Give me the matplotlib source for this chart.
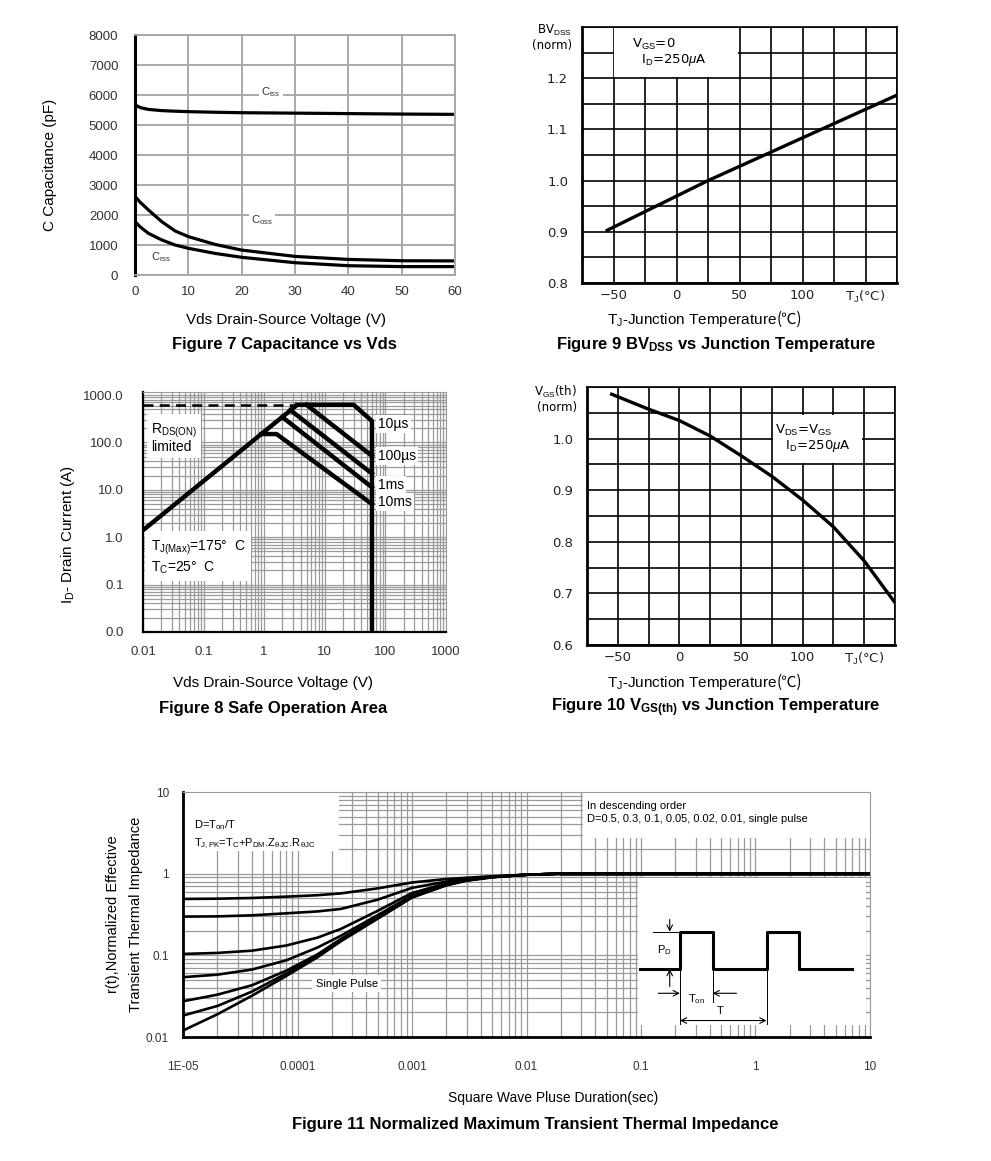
import matplotlib.pyplot as plt
from matplotlib.patches import Rectangle

plt.rcParams['font.family'] = ['Liberation Sans', 'DejaVu Sans', 'Noto Sans CJK SC']
plt.rcParams['mathtext.fontset'] = 'custom'
plt.rcParams['mathtext.rm'] = 'Liberation Sans'
plt.rcParams['mathtext.it'] = 'Liberation Sans:italic'
plt.rcParams['mathtext.bf'] = 'Liberation Sans:bold'

# ---- data ----
# Figure 7: capacitance vs Vds
vds_cap = [0, 1, 2.5, 5, 7.5, 10, 15, 20, 30, 40, 50, 59.5]
ciss = [5670, 5580, 5520, 5480, 5460, 5445, 5425, 5410, 5395, 5380, 5365, 5355]
coss = [2620, 2420, 2170, 1780, 1470, 1280, 1020, 830, 620, 520, 475, 470]
crss = [1780, 1600, 1390, 1170, 1000, 890, 720, 590, 410, 310, 280, 280]

# Figure 9: BVdss (norm) vs Tj
tj_bv = [-55, 25, 175]
bv_norm = [0.903, 1.0, 1.167]

# Figure 10: Vgs(th) (norm) vs Tj
tj_vth = [-55, -25, 0, 25, 50, 75, 100, 125, 150, 175]
vth_norm = [1.086, 1.057, 1.035, 1.005, 0.967, 0.927, 0.881, 0.829, 0.763, 0.682]

# Figure 8: safe operating area
rds_v = [0.01, 3.5]
rds_i = [1.4, 620]
dash_v = [0.01, 3.5]
dash_i = [620, 620]
lim_10us_v = [3.5, 30, 60, 60]
lim_10us_i = [620, 620, 283, 0.01]
lim_100us_v = [5.0, 60]
lim_100us_i = [620, 52]
lim_1ms_v = [2.7, 60]
lim_1ms_i = [480, 22]
lim_10ms_v = [2.0, 60]
lim_10ms_i = [340, 11.3]
lim_dc_v = [0.9, 1.6, 60]
lim_dc_i = [150, 150, 5]

# Figure 11: transient thermal impedance
t_pulse = [1e-5, 2e-5, 4e-5, 8e-5, 1.5e-4, 2.4e-4, 5e-4, 1e-3, 2e-3, 3e-3, 5e-3, 1e-2, 2e-2, 10]
z_d05 = [0.49, 0.494, 0.504, 0.523, 0.545, 0.574, 0.66, 0.78, 0.86, 0.89, 0.93, 0.97, 1.0, 1.0]
z_d03 = [0.298, 0.300, 0.309, 0.327, 0.345, 0.37, 0.48, 0.67, 0.80, 0.86, 0.92, 0.97, 1.0, 1.0]
z_d01 = [0.104, 0.107, 0.114, 0.132, 0.165, 0.211, 0.35, 0.58, 0.76, 0.84, 0.91, 0.97, 1.0, 1.0]
z_d005 = [0.054, 0.058, 0.067, 0.087, 0.125, 0.174, 0.31, 0.54, 0.74, 0.83, 0.91, 0.97, 1.0, 1.0]
z_d002 = [0.0274, 0.033, 0.043, 0.065, 0.103, 0.159, 0.29, 0.52, 0.73, 0.83, 0.91, 0.97, 1.0, 1.0]
z_d001 = [0.0183, 0.024, 0.036, 0.060, 0.099, 0.154, 0.285, 0.515, 0.73, 0.83, 0.91, 0.97, 1.0, 1.0]
z_single = [0.012, 0.019, 0.032, 0.056, 0.095, 0.149, 0.28, 0.51, 0.72, 0.82, 0.90, 0.97, 1.0, 1.0]

# pulse train sketch (time in units of Ton, level in units of Pd)
wave_t = [-1.22, 0, 0, 1, 1, 2.65, 2.65, 3.65, 3.65, 5.25]
wave_p = [0, 0, 1, 1, 0, 0, 1, 1, 0, 0]

W, H = 991, 1161
fig = plt.figure(figsize=(W / 100, H / 100), dpi=100)


def px_axes(l, t, r, b):
    return fig.add_axes([l / W, 1 - b / H, (r - l) / W, (b - t) / H])


def ftext(x, y, s, **kw):
    return fig.text(x / W, 1 - y / H, s, **kw)


GRID = '#a3a3a3'
white_box = dict(facecolor='white', edgecolor='none', pad=1.5)

# ================= Figure 7 =================
ax7 = px_axes(135, 35, 455, 275)
ax7.plot(vds_cap, ciss, color='black', lw=2.3)
ax7.plot(vds_cap, coss, color='black', lw=2.3)
ax7.plot(vds_cap, crss, color='black', lw=2.3)
ax7.set_xlim(0, 60)
ax7.set_ylim(0, 8000)
ax7.set_xticks(range(0, 61, 10))
ax7.set_yticks(range(0, 8001, 1000))
ax7.grid(True, color=GRID, lw=1.3)
ax7.set_axisbelow(True)
for s in ['top', 'right', 'bottom']:
    ax7.spines[s].set_color(GRID)
    ax7.spines[s].set_linewidth(1.3)
ax7.spines['left'].set_linewidth(2.2)
ax7.tick_params(length=0, labelsize=9.5, colors='#333333')
ax7.tick_params(axis='y', pad=12)
ax7.tick_params(axis='x', pad=8)
ax7.text(25.5, 6100, r'C$_{\mathrm{iss}}$', fontsize=8, ha='center', va='center', color='#333333', bbox=white_box)
ax7.text(23.8, 1830, r'C$_{\mathrm{oss}}$', fontsize=8, ha='center', va='center', color='#333333', bbox=white_box)
ax7.text(4.8, 600, r'C$_{\mathrm{rss}}$', fontsize=8, ha='center', va='center', color='#333333')
ftext(50, 165, 'C Capacitance (pF)', rotation=90, fontsize=11, ha='center', va='center')
ftext(286, 320, 'Vds Drain-Source Voltage (V)', fontsize=11, ha='center', va='center')
ftext(284, 345, 'Figure 7 Capacitance vs Vds', fontsize=12, fontweight='bold', ha='center', va='center')

# ================= Figure 9 / 10 common =================
temp_ticks = list(range(-75, 176, 25))
temp_labels = ['', '\u221250', '', '0', '', '50', '', '100', '', 'T$_\\mathrm{J}$(\u00b0C)', '']


def temp_axes(ax, ylo, yhi, ylabels):
    ax.set_xlim(-75, 175)
    ax.set_ylim(ylo, yhi)
    ax.set_xticks(temp_ticks)
    ax.set_xticklabels(temp_labels, family='DejaVu Sans')
    yt = [ylo + 0.05 * i for i in range(len(ylabels))]
    ax.set_yticks(yt)
    ax.set_yticklabels(ylabels, family='DejaVu Sans')
    ax.grid(True, color='black', lw=1.2)
    ax.set_axisbelow(True)
    for s in ax.spines.values():
        s.set_linewidth(1.2)
    ax.spines['left'].set_linewidth(2)
    ax.spines['bottom'].set_linewidth(2)
    ax.tick_params(length=0, labelsize=9.5, colors='#222222')
    ax.tick_params(axis='y', pad=10)
    ax.tick_params(axis='x', pad=4)


temp_xlabels = []

# ================= Figure 9 =================
ax9 = px_axes(582, 27, 897, 283)
temp_axes(ax9, 0.8, 1.3, ['0.8', '', '0.9', '', '1.0', '', '1.1', '', '1.2', '', ''])
ax9.add_patch(Rectangle((-49.3, 1.203), 98.5, 0.095, facecolor='white', edgecolor='none', zorder=1.5))
ax9.plot(tj_bv, bv_norm, color='black', lw=2.4, zorder=3)
ax9.text(-35, 1.266, r'V$_{\mathrm{GS}}$=0', fontsize=9.5, family='DejaVu Sans', va='center', zorder=4)
ax9.text(-28, 1.235, r'I$_{\mathrm{D}}$=250$\mu$A', fontsize=9.5, family='DejaVu Sans', va='center', zorder=4)
ftext(572, 30, r'BV$_{\mathrm{DSS}}$', fontsize=8.5, family='DejaVu Sans', ha='right', va='center')
ftext(572, 45, '(norm)', fontsize=8.5, family='DejaVu Sans', ha='right', va='center')
temp_xlabels.append(ftext(607, 324, 'T$_\\mathrm{J}$-Junction Temperature', fontsize=11, va='baseline'))
ftext(716, 345, r'Figure 9 BV$_{\mathbf{DSS}}$ vs Junction Temperature', fontsize=12,
      fontweight='bold', ha='center', va='center')

# ================= Figure 10 =================
ax10 = px_axes(587, 387, 895, 645)
temp_axes(ax10, 0.6, 1.1, ['0.6', '', '0.7', '', '0.8', '', '0.9', '', '1.0', '', ''])
ax10.add_patch(Rectangle((76, 0.952), 72, 0.093, facecolor='white', edgecolor='none', zorder=1.5))
ax10.plot(tj_vth, vth_norm, color='black', lw=2.4, zorder=3)
ax10.text(78, 1.015, r'V$_{\mathrm{DS}}$=V$_{\mathrm{GS}}$', fontsize=9.5, family='DejaVu Sans', va='center', zorder=4)
ax10.text(86, 0.986, r'I$_{\mathrm{D}}$=250$\mu$A', fontsize=9.5, family='DejaVu Sans', va='center', zorder=4)
ftext(577, 392, r'V$_{\mathrm{GS}}$(th)', fontsize=8.5, family='DejaVu Sans', ha='right', va='center')
ftext(577, 407, '(norm)', fontsize=8.5, family='DejaVu Sans', ha='right', va='center')
temp_xlabels.append(ftext(607, 687, 'T$_\\mathrm{J}$-Junction Temperature', fontsize=11, va='baseline'))
ftext(716, 708, r'Figure 10 V$_{\mathbf{GS(th)}}$ vs Junction Temperature', fontsize=12,
      fontweight='bold', ha='center', va='center')

# ================= Figure 8 =================
ax8 = px_axes(143, 392, 446, 632)
ax8.set_xscale('log')
ax8.set_yscale('log')
ax8.set_xlim(0.01, 1000)
ax8.set_ylim(0.01, 1157)
ax8.set_xticks([0.01, 0.1, 1, 10, 100, 1000])
ax8.set_xticklabels(['0.01', '0.1', '1', '10', '100', '1000'])
ax8.set_yticks([0.01, 0.1, 1, 10, 100, 1000])
ax8.set_yticklabels(['0.0', '0.1', '1.0', '10.0', '100.0', '1000.0'])
ax8.grid(True, which='both', color='#9a9a9a', lw=0.9)
ax8.set_axisbelow(True)
ax8.tick_params(which='both', length=0, labelsize=9.5, colors='#333333')
ax8.tick_params(axis='y', pad=14)
ax8.tick_params(axis='x', pad=10)
for s in ['top', 'right']:
    ax8.spines[s].set_color('#9a9a9a')
ax8.spines['left'].set_linewidth(1.6)
ax8.spines['bottom'].set_linewidth(1.6)
soa_lw = 3.2
ax8.plot(dash_v, dash_i, color='black', lw=1.8, ls=(0, (4, 2.5)))
ax8.plot(rds_v, rds_i, color='black', lw=soa_lw, solid_capstyle='butt')
ax8.plot(lim_10us_v, lim_10us_i, color='black', lw=soa_lw)
ax8.plot(lim_100us_v, lim_100us_i, color='black', lw=soa_lw)
ax8.plot(lim_1ms_v, lim_1ms_i, color='black', lw=soa_lw)
ax8.plot(lim_10ms_v, lim_10ms_i, color='black', lw=soa_lw)
ax8.plot(lim_dc_v, lim_dc_i, color='black', lw=soa_lw)
ax8.text(0.0135, 125, 'R$_{\\mathrm{DS(ON)}}$\nlimited', fontsize=10, va='center', linespacing=1.0,
         bbox=dict(facecolor='white', edgecolor='none', pad=3))
ax8.text(0.0135, 0.38, 'T$_{\\mathrm{J(Max)}}$=175\u00b0  C\nT$_{\\mathrm{C}}$=25\u00b0  C', fontsize=10,
         va='center', linespacing=1.2, bbox=dict(facecolor='white', edgecolor='none', pad=4))
for lab, yy in [('10\u00b5s', 245), ('100\u00b5s', 51), ('1ms', 12.5), ('10ms', 5.6)]:
    ax8.text(76, yy, lab, fontsize=10, va='center', bbox=white_box)
ftext(68, 535, 'I$_{\\mathrm{D}}$- Drain Current (A)', rotation=90, fontsize=11, ha='center', va='center')
ftext(273, 683, 'Vds Drain-Source Voltage (V)', fontsize=11, ha='center', va='center')
ftext(273, 708, 'Figure 8 Safe Operation Area', fontsize=12, fontweight='bold', ha='center', va='center')

# ================= Figure 11 =================
ax11 = px_axes(183, 792, 870, 1037)
ax11.set_xscale('log')
ax11.set_yscale('log')
ax11.set_xlim(1e-5, 10)
ax11.set_ylim(0.01, 10)
ax11.set_xticks([1e-5, 1e-4, 1e-3, 1e-2, 0.1, 1, 10])
ax11.set_xticklabels(['1E-05', '0.0001', '0.001', '0.01', '0.1', '1', '10'])
ax11.set_yticks([0.01, 0.1, 1, 10])
ax11.set_yticklabels(['0.01', '0.1', '1', '10'])
ax11.grid(True, which='both', color='#9a9a9a', lw=0.9)
ax11.set_axisbelow(True)
ax11.tick_params(which='both', length=0, labelsize=8.5, colors='#333333')
ax11.tick_params(axis='y', pad=10)
ax11.tick_params(axis='x', pad=17)
for s in ['top', 'right']:
    ax11.spines[s].set_color('#9a9a9a')
ax11.spines['left'].set_linewidth(2)
ax11.spines['bottom'].set_linewidth(2)
# cleared areas behind the notes
ax11.add_patch(Rectangle((1.05e-5, 1.9), 2.2e-4, 8.0, facecolor='white', edgecolor='none', zorder=1.5))
ax11.add_patch(Rectangle((0.031, 2.7), 9.9, 7.2, facecolor='white', edgecolor='none', zorder=1.5))
for z in [z_d05, z_d03, z_d01, z_d005, z_d002, z_d001, z_single]:
    ax11.plot(t_pulse, z, color='black', lw=1.9, zorder=3, solid_joinstyle='round')
ax11.plot(t_pulse[-2:], z_single[-2:], color='black', lw=2.6, zorder=3)
ax11.text(1.25e-5, 3.0, 'D=T$_{\\mathrm{on}}$/T\nT$_{\\mathrm{J,PK}}$=T$_{\\mathrm{C}}$+P$_{\\mathrm{DM}}$.Z$_{\\mathrm{\\theta JC}}$.R$_{\\mathrm{\\theta JC}}$',
          fontsize=8, va='center', linespacing=1.5, zorder=4)
ax11.text(0.034, 5.6, 'In descending order\nD=0.5, 0.3, 0.1, 0.05, 0.02, 0.01, single pulse',
          fontsize=8, va='center', linespacing=1.3, zorder=4)
ax11.text(2.7e-4, 0.045, 'Single Pulse', fontsize=8, ha='center', va='center', zorder=4,
          bbox=dict(facecolor='white', edgecolor='none', pad=2.5))

# pulse train sketch
axi = px_axes(638, 878, 866, 1025)
axi.set_xlim(-1.28, 5.69)
axi.set_ylim(-1.5, 2.44)
axi.axis('off')
axi.add_patch(Rectangle((-1.28, -1.5), 6.97, 3.94, facecolor='white', edgecolor='none', zorder=0))
axi.plot(wave_t, wave_p, color='black', lw=2.2, zorder=3)
thin = dict(color='black', lw=0.7)
axi.plot([-0.83, 0], [1, 1], **thin)
axi.plot([0, 0], [0, -1.5], **thin)
axi.plot([1, 1], [0, -0.88], **thin)
axi.plot([2.65, 2.65], [0, -1.5], **thin)
arr = dict(arrowstyle='->', color='black', lw=0.8, shrinkA=0, shrinkB=0)
axi.annotate('', xy=(-0.31, 1.0), xytext=(-0.31, 1.33), arrowprops=arr)
axi.annotate('', xy=(-0.31, 0.0), xytext=(-0.31, -0.47), arrowprops=arr)
axi.annotate('', xy=(0, -0.65), xytext=(-0.66, -0.65), arrowprops=arr)
axi.annotate('', xy=(1, -0.65), xytext=(1.73, -0.65), arrowprops=arr)
axi.annotate('', xy=(0, -1.38), xytext=(2.65, -1.38),
             arrowprops=dict(arrowstyle='<->', color='black', lw=0.8, shrinkA=0, shrinkB=0))
axi.text(-0.46, 0.5, 'P$_{\\mathrm{D}}$', fontsize=8, ha='center', va='center')
axi.text(0.5, -0.8, 'T$_{\\mathrm{on}}$', fontsize=8, ha='center', va='center')
axi.text(1.22, -1.12, 'T', fontsize=8, ha='center', va='center')

ftext(113, 914, 'r(t),Normalized Effective', rotation=90, fontsize=10.5, ha='center', va='center')
ftext(136, 914, 'Transient Thermal Impedance', rotation=90, fontsize=10.5, ha='center', va='center')
ftext(553, 1098, 'Square Wave Pluse Duration(sec)', fontsize=10, ha='center', va='center')
ftext(535, 1125, 'Figure 11 Normalized Maximum Transient Thermal Impedance', fontsize=12,
      fontweight='bold', ha='center', va='center')

# the degree-Celsius sign is not in the mathtext font, so it goes in its own text
fig.canvas.draw()
for t in temp_xlabels:
    bb = t.get_window_extent()
    fig.text(bb.x1 / (W), t.get_position()[1], '(\u2103)', fontsize=11, va='baseline',
             family=['Noto Sans CJK SC', 'DejaVu Sans'])

fig.savefig('out.png', dpi=100)
